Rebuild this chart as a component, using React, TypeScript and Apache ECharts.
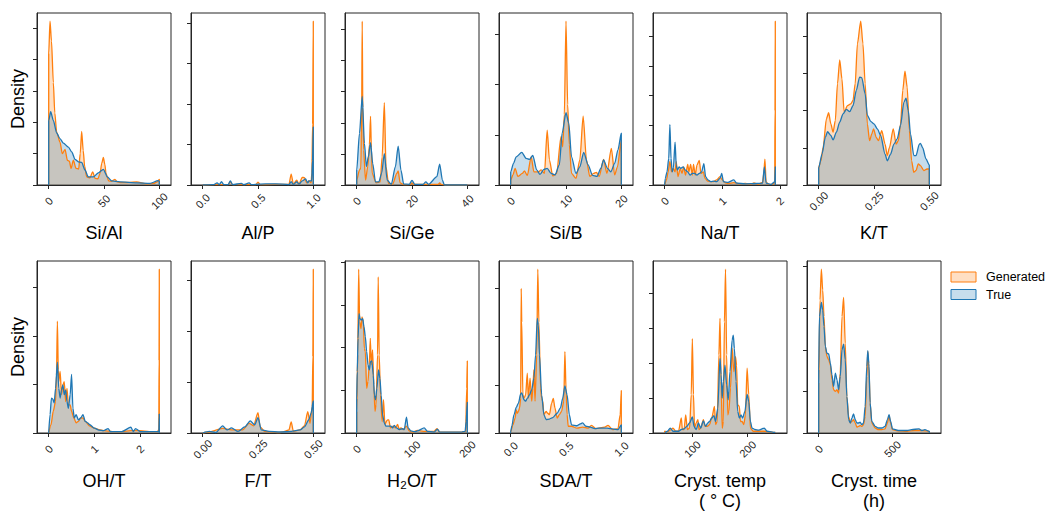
import React, { useEffect, useRef } from "react";
import * as echarts from "echarts";

// ---------- data (density, in y-tick units; x in variable units) ----------
const siAlGen = [[0,0],[0,4.2],[1.2,5.23],[2.5,4.6],[4.2,3.27],[5.5,2.3],[7.2,1.69],[10.2,1.37],[12.3,1.0],[14.8,1.14],[16.9,0.79],[18.7,0.76],[20.2,0.53],[22.3,0.79],[24.7,0.53],[27.1,0.51],[28.5,1.0],[29.8,1.71],[31.2,1.1],[32.5,0.6],[34.3,0.26],[37.3,0.23],[39.8,0.42],[41.9,0.21],[44.5,0.2],[46.4,0.37],[48,0.7],[49.4,0.88],[50.8,0.65],[51.8,0.37],[54.2,0.13],[57,0.12],[59.9,0.18],[62,0.1],[64.5,0.08],[72,0.08],[79.5,0.1],[88.6,0.04],[95,0.05],[98,0.1],[100,0.18],[100,0]];
const siAlTrue = [[0,0],[0,2.05],[1.8,2.34],[4.2,2.06],[7.2,1.66],[10.2,1.48],[13.3,1.34],[17.8,1.21],[20.8,1.06],[23.8,0.82],[26.8,0.74],[29.8,0.72],[32.8,0.48],[35.8,0.26],[40.4,0.26],[44.9,0.39],[49.4,0.5],[53,0.26],[56.9,0.13],[64.5,0.1],[79.5,0.07],[91.6,0.05],[99,0.14],[100,0.12],[100,0]];
const siAlTicks = [0, 50, 100];

const alPGen = [[0,0],[0.1,0.01],[0.23,0.01],[0.25,0.08],[0.27,0.01],[0.48,0.01],[0.5,0.07],[0.52,0.01],[0.78,0.02],[0.8,0.27],[0.82,0.02],[0.85,0.12],[0.87,0.02],[0.9,0.19],[0.92,0.18],[0.94,0.05],[0.96,0.1],[0.98,0.05],[0.987,0.3],[0.994,1.5],[1.0,4.04],[1,0]];
const alPTrue = [[0,0],[0.1,0.01],[0.13,0.05],[0.15,0.01],[0.17,0.08],[0.19,0.01],[0.23,0.01],[0.25,0.1],[0.27,0.01],[0.35,0.04],[0.37,0.01],[0.42,0.05],[0.44,0.01],[0.57,0.03],[0.66,0.03],[0.78,0.01],[0.8,0.08],[0.82,0.01],[0.85,0.08],[0.87,0.02],[0.9,0.1],[0.93,0.15],[0.95,0.05],[0.96,0.1],[0.985,0.1],[0.993,0.6],[1.0,1.43],[1,0]];
const alPTicks = [0, 0.5, 1];

const siGeGen = [[0,0],[0,0.16],[1,0.48],[1.5,0.55],[1.8,2.5],[2,5.27],[2.2,2.5],[2.5,1.12],[3.2,0.16],[4,0.59],[4.6,1.3],[5,2.21],[5.3,1.2],[5.6,0.37],[7,0.07],[8.5,0.1],[9.2,0.9],[10,2.65],[10.6,0.59],[11.5,0.05],[13,0.03],[14.5,0.37],[15,0.45],[15.7,0.07],[17,0.01],[19.5,0.02],[20,0.07],[20.5,0.02],[25,0.02],[29.5,0.02],[30,0.07],[30.5,0.02],[32,0],[40,0],[40,0]];
const siGeTrue = [[0,0],[0,0.48],[1,1.66],[2,2.85],[2.8,1.34],[3.5,0.59],[4.2,0.9],[5,1.36],[5.8,0.69],[6.8,0.1],[8,0.1],[9,0.37],[10,1.01],[11,0.16],[12.5,0.02],[14,0.59],[15,1.25],[16,0.48],[17,0.03],[19,0.02],[20,0.15],[21,0.02],[24,0.02],[25,0.1],[26,0.02],[29,0.27],[30,0.67],[31,0.16],[31.7,0],[40,0],[40,0]];
const siGeTicks = [0, 20, 40];

const siBGen = [[0,0],[0,0.1],[0.4,0.2],[0.8,0.33],[1.3,0.17],[2.1,0.23],[2.5,0.28],[3,0.19],[3.7,0.56],[4.2,0.26],[5,0.26],[5.5,0.3],[6.1,0.23],[6.6,1.09],[7,0.5],[7.6,0.18],[8.3,0.23],[9.1,0.96],[9.4,0.76],[9.7,1.4],[10,3.26],[10.3,1.6],[10.6,0.8],[11,0.23],[11.8,0.13],[12.5,0.5],[13.1,1.37],[13.7,0.5],[14.3,0.17],[15,0.23],[15.5,0.25],[16,0.17],[16.8,0.51],[17.4,0.23],[18.2,0.73],[18.8,0.2],[19.3,0.36],[20,0.89],[20,0]];
const siBTrue = [[0,0],[0,0.26],[0.5,0.43],[1,0.56],[2,0.65],[2.8,0.53],[3.4,0.51],[4,0.59],[4.7,0.3],[5.3,0.21],[6,0.31],[6.6,0.33],[7.3,0.23],[8,0.2],[8.8,0.4],[9.3,1.03],[10,1.44],[10.5,1.23],[11,0.56],[11.8,0.23],[12.5,0.36],[13.2,0.65],[14,0.4],[14.8,0.19],[15.6,0.17],[16.3,0.33],[16.8,0.5],[17.5,0.33],[18.1,0.26],[18.8,0.43],[19.4,0.7],[20,1.03],[20,0]];
const siBTicks = [0, 10, 20];

const naTGen = [[0,0],[0.03,0.17],[0.06,0.44],[0.09,0.78],[0.12,0.44],[0.15,0.56],[0.18,0.44],[0.2,0.78],[0.23,0.28],[0.27,0.56],[0.3,0.39],[0.33,0.61],[0.36,0.33],[0.4,0.69],[0.42,0.44],[0.45,0.69],[0.48,0.33],[0.5,0.69],[0.53,0.33],[0.56,0.67],[0.6,0.83],[0.63,0.39],[0.67,0.44],[0.7,0.22],[0.75,0.13],[0.8,0.11],[0.85,0.11],[0.9,0.17],[0.96,0.28],[1.0,0.17],[1.05,0.07],[1.1,0.05],[1.2,0.08],[1.3,0.04],[1.4,0.05],[1.5,0.03],[1.55,0.07],[1.62,0.02],[1.7,0.09],[1.72,0.4],[1.74,0.87],[1.76,0.11],[1.8,0.02],[1.88,0.02],[1.91,0.11],[1.915,2.5],[1.92,5.5],[1.92,0]];
const naTTrue = [[0,0],[0.01,0.22],[0.04,0.44],[0.07,0.89],[0.09,2.03],[0.11,0.89],[0.13,0.44],[0.15,0.56],[0.18,1.44],[0.2,0.67],[0.22,0.5],[0.25,0.61],[0.28,0.56],[0.32,0.61],[0.36,0.5],[0.4,0.44],[0.44,0.33],[0.48,0.39],[0.52,0.39],[0.56,0.33],[0.6,0.39],[0.64,0.44],[0.68,0.72],[0.71,0.28],[0.75,0.17],[0.8,0.11],[0.85,0.13],[0.9,0.11],[0.96,0.22],[0.99,0.39],[1.02,0.11],[1.1,0.09],[1.2,0.17],[1.25,0.06],[1.4,0.04],[1.6,0.05],[1.7,0.06],[1.73,0.61],[1.76,0.06],[1.85,0.02],[1.91,0.11],[1.92,0.61],[1.92,0]];
const naTTicks = [0, 1, 2];

const kTGen = [[0,0],[0,0.48],[0.01,0.65],[0.02,1.01],[0.035,1.78],[0.045,1.94],[0.055,1.64],[0.065,1.42],[0.075,1.73],[0.085,2.72],[0.095,3.36],[0.105,2.85],[0.115,1.96],[0.13,2.13],[0.145,2.18],[0.155,2.27],[0.165,2.72],[0.175,3.79],[0.19,4.4],[0.2,3.79],[0.21,2.72],[0.22,1.64],[0.23,1.19],[0.24,1.37],[0.248,1.51],[0.26,1.28],[0.27,1.19],[0.285,1.46],[0.3,1.1],[0.31,0.79],[0.32,1.01],[0.337,1.51],[0.35,1.1],[0.36,1.19],[0.37,1.64],[0.38,2.54],[0.39,3.06],[0.4,2.63],[0.41,1.46],[0.42,0.65],[0.43,0.34],[0.44,0.39],[0.45,0.57],[0.46,0.52],[0.475,0.39],[0.49,0.43],[0.5,0.43],[0.5,0]];
const kTTrue = [[0,0],[0,0.46],[0.015,0.83],[0.03,1.28],[0.04,1.43],[0.055,1.33],[0.065,1.21],[0.08,1.42],[0.095,1.69],[0.11,1.91],[0.125,2.03],[0.14,1.97],[0.155,2.13],[0.17,2.54],[0.185,2.9],[0.195,2.88],[0.21,2.45],[0.22,1.87],[0.235,1.71],[0.25,1.64],[0.265,1.51],[0.28,1.33],[0.3,0.83],[0.31,0.65],[0.325,0.83],[0.34,1.1],[0.355,1.24],[0.37,1.6],[0.385,2.22],[0.395,2.33],[0.405,2.0],[0.415,1.37],[0.43,0.79],[0.44,0.79],[0.455,1.1],[0.46,1.12],[0.47,1.0],[0.485,0.7],[0.5,0.54],[0.5,0]];
const kTTicks = [0, 0.25, 0.5];

const ohTGen = [[0,0],[0.05,0.17],[0.1,0.45],[0.15,0.65],[0.17,1.2],[0.19,2.31],[0.21,1.3],[0.22,1.06],[0.25,1.27],[0.28,0.79],[0.31,0.99],[0.34,1.06],[0.37,0.65],[0.4,0.92],[0.43,0.58],[0.47,0.58],[0.5,0.45],[0.55,0.31],[0.6,0.21],[0.65,0.24],[0.7,0.31],[0.75,0.31],[0.8,0.24],[0.9,0.14],[1.0,0.1],[1.1,0.07],[1.2,0.05],[1.4,0.03],[1.6,0.03],[1.8,0.05],[2.0,0.05],[2.2,0.03],[2.38,0.03],[2.41,0.07],[2.415,1.5],[2.42,3.38],[2.42,0]];
const ohTTrue = [[0,0],[0.03,0.38],[0.06,0.72],[0.09,0.7],[0.12,0.62],[0.15,0.92],[0.19,1.46],[0.22,0.92],[0.25,0.72],[0.28,0.89],[0.31,0.99],[0.34,0.79],[0.37,0.89],[0.4,0.65],[0.43,0.51],[0.47,0.79],[0.5,1.21],[0.53,0.51],[0.56,0.31],[0.6,0.38],[0.65,0.27],[0.7,0.31],[0.75,0.38],[0.8,0.24],[0.85,0.21],[0.9,0.17],[1.0,0.1],[1.1,0.06],[1.2,0.05],[1.3,0.09],[1.35,0.03],[1.6,0.03],[1.8,0.12],[1.85,0.03],[1.9,0.09],[2.0,0.03],[2.3,0.03],[2.41,0.03],[2.42,0.39],[2.42,0]];
const ohTTicks = [0, 1, 2];

const fTGen = [[0,0],[0.03,0.02],[0.09,0.09],[0.13,0.06],[0.18,0.06],[0.21,0.19],[0.23,0.14],[0.25,0.4],[0.26,0.12],[0.28,0.03],[0.35,0.01],[0.37,0.03],[0.39,0.06],[0.4,0.22],[0.41,0.03],[0.44,0.06],[0.46,0.14],[0.475,0.42],[0.485,0.19],[0.495,0.52],[0.498,1.5],[0.5,3.22],[0.5,0]];
const fTTrue = [[0,0],[0.03,0.03],[0.06,0.01],[0.09,0.14],[0.11,0.06],[0.13,0.1],[0.16,0.03],[0.19,0.12],[0.215,0.24],[0.235,0.16],[0.25,0.3],[0.265,0.06],[0.3,0.03],[0.35,0.02],[0.4,0.03],[0.44,0.06],[0.46,0.12],[0.48,0.26],[0.49,0.39],[0.5,0.63],[0.5,0]];
const fTTicks = [0, 0.25, 0.5];

const h2oTGen = [[0,0],[0,0.5],[1.8,1.83],[3.6,3.84],[5.4,2.61],[7.8,2.45],[9.6,2.72],[12,2.61],[13.8,1.98],[15.6,1.91],[18,1.05],[20.4,1.21],[22.8,1.6],[24.6,2.22],[26.3,1.6],[28.7,1.95],[31,1.13],[33,0.51],[35,0.66],[37.7,1.83],[38.9,3.66],[40.7,1.83],[43,0.89],[46,0.27],[48.5,0.78],[51,0.2],[55,0.3],[58,0.31],[61,0.12],[66,0.16],[70,0.12],[74,0.2],[77,0.08],[80,0.12],[84,0.08],[90,0.16],[95,0.05],[100,0.02],[110,0.06],[120,0.04],[140,0.04],[145,0.1],[150,0.02],[170,0.02],[190,0.02],[197,0.04],[199,1.05],[200,1.69],[200,0]];
const h2oTTrue = [[0,0],[0,0.8],[1,1.44],[2.4,2.22],[4.2,2.8],[6,2.68],[8.4,2.65],[10.8,2.68],[13.2,2.49],[15.6,2.26],[18,1.91],[20.4,1.6],[22.8,1.48],[25,1.67],[27.5,1.69],[29.9,1.36],[32,0.89],[34,0.78],[36.5,1.05],[39.5,1.48],[42,1.28],[44.3,0.89],[46.7,0.43],[50,0.23],[53,0.16],[57,0.16],[62,0.16],[65,0.12],[68,0.18],[72,0.12],[77,0.08],[83,0.1],[86,0.08],[90,0.37],[93,0.12],[98,0.05],[105,0.03],[110,0.05],[122,0.12],[128,0.04],[140,0.02],[146,0.09],[150,0.02],[160,0.02],[190,0.02],[196,0.04],[198,0.27],[200,0.72],[200,0]];
const h2oTTicks = [0, 100, 200];

const sdaTGen = [[0,0],[0,0.03],[0.02,0.17],[0.04,0.31],[0.05,0.48],[0.06,0.41],[0.07,0.45],[0.08,0.52],[0.09,0.72],[0.095,3.0],[0.1,2.3],[0.11,0.79],[0.12,0.72],[0.135,0.79],[0.15,1.24],[0.16,0.72],[0.175,1.14],[0.19,0.66],[0.2,0.93],[0.21,1.31],[0.22,0.66],[0.235,1.62],[0.245,3.4],[0.255,2.3],[0.27,0.93],[0.28,0.72],[0.29,0.66],[0.3,0.38],[0.32,0.45],[0.335,0.41],[0.35,0.38],[0.37,0.62],[0.385,0.72],[0.4,0.52],[0.42,0.31],[0.44,0.38],[0.46,0.45],[0.48,0.66],[0.49,1.69],[0.5,0.93],[0.51,0.38],[0.52,0.14],[0.55,0.14],[0.6,0.1],[0.65,0.12],[0.7,0.1],[0.73,0.16],[0.77,0.09],[0.85,0.12],[0.88,0.16],[0.92,0.07],[0.97,0.09],[0.99,0.38],[1.0,0.88],[1,0]];
const sdaTTrue = [[0,0],[0,0.03],[0.01,0.14],[0.03,0.38],[0.05,0.53],[0.07,0.62],[0.09,0.81],[0.1,0.83],[0.12,0.69],[0.135,0.66],[0.15,0.72],[0.17,0.79],[0.19,0.9],[0.21,1.14],[0.225,1.62],[0.24,2.38],[0.25,2.24],[0.26,1.62],[0.28,0.79],[0.3,0.38],[0.32,0.28],[0.35,0.29],[0.38,0.32],[0.42,0.41],[0.45,0.52],[0.47,0.72],[0.49,0.98],[0.51,0.79],[0.53,0.38],[0.55,0.17],[0.6,0.15],[0.63,0.19],[0.65,0.21],[0.68,0.14],[0.72,0.12],[0.76,0.09],[0.8,0.1],[0.87,0.1],[0.93,0.08],[0.97,0.07],[1.0,0.17],[1,0]];
const sdaTTicks = [0, 0.5, 1];

const tempGen = [[50,0],[50,0.05],[55,0.03],[60,0.08],[65,0.14],[70,0.05],[75,0.05],[80,0.43],[82,0.1],[85,0.1],[88,0.52],[91,0.1],[95,0.14],[98,1.1],[100,2.71],[102,1.1],[104,0.14],[107,0.29],[110,0.38],[112,0.1],[115,0.14],[120,0.38],[123,0.19],[127,0.19],[131,0.24],[135,0.43],[140,0.76],[142,0.24],[145,0.33],[148,2.24],[150,3.29],[152,1.48],[154,0.14],[156,0.33],[158,3.19],[160,4.7],[162,2.24],[164,0.52],[166,0.62],[169,1.29],[172,2.43],[175,1.76],[178,2.19],[180,1.95],[182,0.81],[185,0.76],[187,0.33],[190,0.33],[193,0.24],[196,0.52],[199,1.86],[202,1.1],[205,0.14],[210,0.05],[230,0.05],[250,0.02],[250,0]];
const tempTrue = [[50,0],[50,0.02],[55,0.05],[60,0.14],[65,0.05],[75,0.05],[80,0.1],[85,0.12],[90,0.19],[95,0.29],[100,0.46],[103,0.19],[107,0.1],[111,0.29],[115,0.14],[120,0.35],[124,0.19],[128,0.29],[131,0.33],[135,0.43],[139,0.5],[142,0.33],[146,0.71],[150,2.14],[152,1.67],[154,1.0],[156,1.48],[159,1.95],[162,1.38],[165,0.95],[168,1.76],[172,2.67],[174,2.81],[176,2.43],[179,1.48],[182,0.62],[185,0.43],[188,0.52],[191,0.43],[195,0.62],[199,1.11],[202,0.9],[205,0.33],[208,0.14],[213,0.1],[220,0.08],[230,0.14],[235,0.05],[250,0.02],[250,0]];
const tempTicks = [100, 200];

const timeGen = [[0,0],[0,1.2],[9,3.2],[18,3.94],[27,3.44],[36,2.8],[45,2.08],[56,1.84],[68,1.76],[79,1.64],[90,1.28],[101,1.04],[113,1.0],[124,1.04],[135,0.96],[146,1.44],[158,2.8],[169,3.26],[180,2.16],[191,0.88],[203,0.4],[214,0.24],[225,0.28],[236,0.32],[248,0.24],[259,0.14],[270,0.16],[281,0.18],[293,0.16],[304,0.2],[315,0.4],[326,1.36],[333,1.96],[340,1.6],[349,0.72],[360,0.24],[383,0.12],[405,0.08],[428,0.08],[450,0.1],[466,0.24],[477,0.42],[488,0.24],[500,0.08],[540,0.05],[600,0.04],[650,0.06],[700,0.06],[750,0.04],[750,0]];
const timeTrue = [[0,0],[0,1.52],[5,2.8],[18,3.14],[27,2.96],[36,2.56],[45,2.08],[56,1.92],[68,1.9],[79,1.68],[90,1.4],[101,1.12],[113,1.44],[124,1.28],[135,1.04],[146,1.36],[158,2.0],[169,2.14],[180,1.76],[191,0.88],[203,0.32],[214,0.24],[225,0.36],[236,0.46],[248,0.32],[259,0.24],[270,0.24],[281,0.26],[293,0.2],[304,0.24],[315,0.64],[326,1.6],[333,1.98],[340,1.68],[349,0.72],[360,0.28],[383,0.16],[405,0.12],[428,0.12],[450,0.16],[466,0.32],[477,0.44],[488,0.28],[500,0.1],[540,0.06],[600,0.06],[630,0.08],[680,0.1],[700,0.06],[720,0.08],[750,0.04],[750,0]];
const timeTicks = [0, 500];

const panelLabels = ["Si/Al", "Al/P", "Si/Ge", "Si/B", "Na/T", "K/T", "OH/T", "F/T", "H₂O/T", "SDA/T", "Cryst. temp\n( ° C)", "Cryst. time\n(h)"];
const legendNames = ["Generated", "True"];

// ---------- styling ----------
const ORANGE = "#ff7f0e";
const BLUE = "#1f77b4";
const SPINE = "#262626";
const FONT = "'Liberation Sans', Arial, Helvetica, sans-serif";
const PANEL_W = 134;
const PANEL_H = 172;
const LEFT0 = 37;
const STEP = 154;
const TOPS = [13, 261];

const panels = [
  { gen: siAlGen, tru: siAlTrue, ticks: siAlTicks, dec: 0 },
  { gen: alPGen, tru: alPTrue, ticks: alPTicks, dec: 1 },
  { gen: siGeGen, tru: siGeTrue, ticks: siGeTicks, dec: 0 },
  { gen: siBGen, tru: siBTrue, ticks: siBTicks, dec: 0 },
  { gen: naTGen, tru: naTTrue, ticks: naTTicks, dec: 0 },
  { gen: kTGen, tru: kTTrue, ticks: kTTicks, dec: 2 },
  { gen: ohTGen, tru: ohTTrue, ticks: ohTTicks, dec: 0 },
  { gen: fTGen, tru: fTTrue, ticks: fTTicks, dec: 2 },
  { gen: h2oTGen, tru: h2oTTrue, ticks: h2oTTicks, dec: 0 },
  { gen: sdaTGen, tru: sdaTTrue, ticks: sdaTTicks, dec: 1 },
  { gen: tempGen, tru: tempTrue, ticks: tempTicks, dec: 0 },
  { gen: timeGen, tru: timeTrue, ticks: timeTicks, dec: 0 },
];

function buildOption(): any {
  const grid: any[] = [];
  const xAxis: any[] = [];
  const yAxis: any[] = [];
  const series: any[] = [];
  panels.forEach((p, i) => {
    const row = Math.floor(i / 6);
    const col = i % 6;
    grid.push({
      left: LEFT0 + col * STEP, top: TOPS[row], width: PANEL_W, height: PANEL_H,
      show: true, borderColor: SPINE, borderWidth: 1, backgroundColor: "transparent",
    });
    const all = [...p.gen, ...p.tru];
    const xs = all.map((d) => d[0]);
    const ys = all.map((d) => d[1]);
    const lo = Math.min(...xs);
    const hi = Math.max(...xs);
    const pad = (hi - lo) * 0.1058;
    const ymax = Math.max(...ys) * 1.05;
    const yt: number[] = [];
    for (let v = 0; v <= ymax + 1e-9; v += 1) yt.push(v);
    xAxis.push({
      type: "value", gridIndex: i, min: lo - pad, max: hi + pad,
      splitLine: { show: false },
      axisLine: { show: true, onZero: false, lineStyle: { color: SPINE, width: 1 } },
      axisTick: { show: true, length: 4, customValues: p.ticks, lineStyle: { color: SPINE, width: 1 } },
      axisLabel: {
        customValues: p.ticks, formatter: (v: number) => v.toFixed(p.dec),
        rotate: 45, align: "center", verticalAlign: "middle", margin: 16,
        fontSize: 11, color: SPINE, fontFamily: FONT,
      },
      name: panelLabels[i], nameLocation: "middle", nameGap: 38,
      nameTextStyle: { fontSize: 18, color: "#000", fontFamily: FONT, lineHeight: 20 },
    });
    yAxis.push({
      type: "value", gridIndex: i, min: 0, max: ymax,
      splitLine: { show: false },
      axisLine: { show: true, onZero: false, lineStyle: { color: SPINE, width: 1 } },
      axisTick: { show: true, length: 4, customValues: yt, lineStyle: { color: SPINE, width: 1 } },
      axisLabel: { show: false },
      name: col === 0 ? "Density" : "", nameLocation: "middle", nameGap: 10,
      nameTextStyle: { fontSize: 18, color: "#000", fontFamily: FONT },
    });
    const mk = (name: string, data: number[][], color: string) => ({
      type: "line", name, xAxisIndex: i, yAxisIndex: i, data,
      symbol: "none", showSymbol: false, smooth: 0.25, smoothMonotone: "x",
      lineStyle: { color, width: 1.3 }, itemStyle: { color },
      areaStyle: { color, opacity: 0.25 }, silent: true,
    });
    series.push(mk(legendNames[0], p.gen, ORANGE));
    series.push(mk(legendNames[1], p.tru, BLUE));
  });

  const graphic = [
    { type: "rect", shape: { x: 951, y: 272, width: 25, height: 10 }, style: { fill: "rgba(255,127,14,0.25)", stroke: ORANGE, lineWidth: 1 } },
    { type: "text", x: 986, y: 277, style: { text: legendNames[0], fontSize: 12.5, fontFamily: FONT, fill: "#000", verticalAlign: "middle", align: "left" } },
    { type: "rect", shape: { x: 951, y: 289.5, width: 25, height: 10 }, style: { fill: "rgba(31,119,180,0.25)", stroke: BLUE, lineWidth: 1 } },
    { type: "text", x: 986, y: 294.5, style: { text: legendNames[1], fontSize: 12.5, fontFamily: FONT, fill: "#000", verticalAlign: "middle", align: "left" } },
  ];

  return { animation: false, backgroundColor: "#fff", grid, xAxis, yAxis, series, graphic };
}

export default function App() {
  const ref = useRef<HTMLDivElement>(null);
  useEffect(() => {
    if (!ref.current) return;
    const chart = echarts.init(ref.current, null, { renderer: "svg" });
    chart.setOption(buildOption());
    return () => chart.dispose();
  }, []);
  return <div ref={ref} style={{ position: "absolute", left: 0, top: 0, width: 1046, height: 515 }} />;
}
